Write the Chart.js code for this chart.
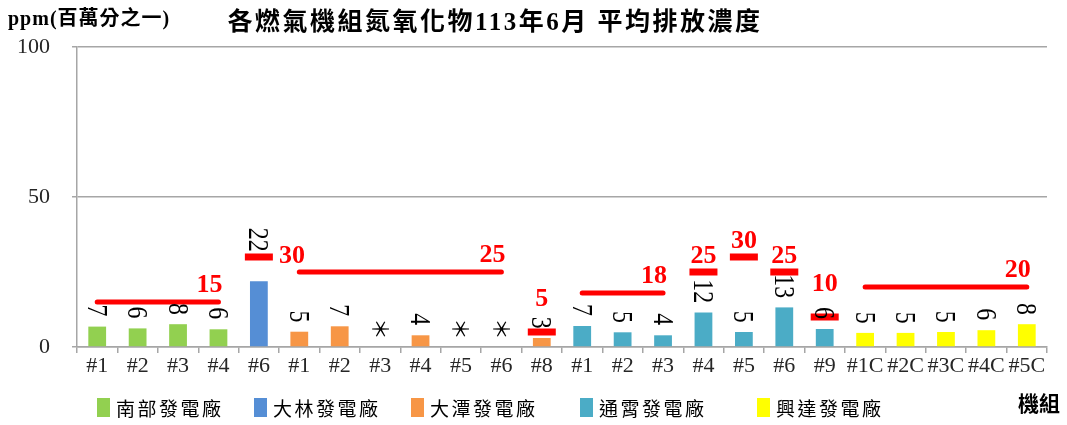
<!DOCTYPE html>
<html><head><meta charset="utf-8">
<script src="https://cdn.jsdelivr.net/npm/chart.js@4.4.0/dist/chart.umd.min.js"></script>
<style>html,body{margin:0;padding:0;background:#fff}#wrap{width:1067px;height:425px;position:relative}</style>
</head><body><div id="wrap"><canvas id="c"></canvas></div>
<script>
// ---- data ----
const categories = ['#1','#2','#3','#4','#6','#1','#2','#3','#4','#5','#6','#8','#1','#2','#3','#4','#5','#6','#9','#1C','#2C','#3C','#4C','#5C'];
const plantNames = ['南部發電廠','大林發電廠','大潭發電廠','通霄發電廠','興達發電廠'];
const plantColors = ['#92D050','#558ED5','#F79646','#4BACC6','#FFFF00'];
const plantSizes = [4,1,7,7,5];
const values = [6.8,6.2,7.6,5.9,21.9,5.1,6.9,null,3.9,null,null,3.0,7.0,4.9,3.9,11.5,5.0,13.2,6.0,4.7,4.7,5.0,5.6,7.6];
const valueLabels = ['7','6','8','6','22','5','7','＊','4','＊','＊','3','7','5','4','12','5','13','6','5','5','5','6','8'];
const limits = [15,15,15,15,30,25,25,25,25,25,25,5,18,18,18,25,30,25,10,20,20,20,20,20];
const yTicks = [0,50,100];
const titleText = '各燃氣機組氮氧化物113年6月 平均排放濃度';
const yUnitText = 'ppm(百萬分之一)';
const xTitleText = '機組';

// ---- derived ----
const plantOf = [];
plantSizes.forEach((n,p)=>{ for(let k=0;k<n;k++) plantOf.push(p); });
const N = categories.length;
const RED = '#FF0000';
const sameRun = (i,j)=> i>=0 && j<N && limits[i]===limits[j] && plantOf[i]===plantOf[j];
const isolated = i => !sameRun(i-1,i) && !sameRun(i,i+1);

const barSets = plantNames.map((name,p)=>({
  type:'bar', label:name,
  data: values.map((v,i)=> plantOf[i]===p ? v : null),
  backgroundColor: plantColors[p], borderWidth:0,
  grouped:false, barPercentage:0.44, categoryPercentage:1, order:2
}));
const limitSet = {
  type:'line', label:'limit', data: limits,
  borderColor: RED, borderWidth:5, borderCapStyle:'round', fill:false, tension:0,
  segment:{ borderColor: ctx => sameRun(ctx.p0DataIndex, ctx.p1DataIndex) ? RED : 'rgba(0,0,0,0)' },
  pointStyle:'line',
  pointRadius: ctx => isolated(ctx.dataIndex) ? 14 : 0,
  pointHoverRadius: ctx => isolated(ctx.dataIndex) ? 14 : 0,
  pointBorderWidth:7, pointHoverBorderWidth:7,
  pointBorderColor: RED, pointBackgroundColor: RED, order:0
};

function drawText(ctx, text, x, y, font, color, align, spacing){
  ctx.save(); ctx.font = font; ctx.fillStyle = color;
  if (spacing) ctx.letterSpacing = spacing;
  const m = ctx.measureText(text);
  ctx.textAlign = align; ctx.textBaseline = 'alphabetic';
  ctx.fillText(text, x, y + (m.actualBoundingBoxAscent - m.actualBoundingBoxDescent)/2);
  ctx.restore();
}
function drawRotated(ctx, text, cx, yPos, mode, font, sx){
  ctx.save(); ctx.font = font; ctx.fillStyle = '#000';
  const m = ctx.measureText(text);
  const L = m.actualBoundingBoxLeft, R = m.actualBoundingBoxRight, A = m.actualBoundingBoxAscent, D = m.actualBoundingBoxDescent;
  ctx.translate(cx, yPos); ctx.rotate(Math.PI/2); ctx.scale(sx,1);
  ctx.textAlign = 'left'; ctx.textBaseline = 'alphabetic';
  const bx = mode === 'bottom' ? -R : -(R - L)/2;
  ctx.fillText(text, bx, (A - D)/2);
  ctx.restore();
}

const LABEL_FONT = '30px "Liberation Serif"';
const STAR_FONT = '22px "Noto Sans CJK TC"';
const LIMIT_FONT = 'bold 26px "Liberation Serif"';
const labelAboveLimit = new Set([4]);
const limitLabelRight = new Set([4]);
const limitLabelHigh = new Set([11,18]);

const textPlugin = {
  id:'texts',
  afterDatasetsDraw(chart){
    const ctx = chart.ctx, xs = chart.scales.x, ys = chart.scales.y;
    const y0 = ys.getPixelForValue(0);
    for (let i=0;i<N;i++){
      const cx = xs.getPixelForValue(i);
      if (values[i] === null){
        drawRotated(ctx, valueLabels[i], cx, y0 - 18, 'center', STAR_FONT, 1);
      } else {
        let bottom = ys.getPixelForValue(values[i]) - 10;
        if (labelAboveLimit.has(i)) bottom = ys.getPixelForValue(limits[i]) - 6;
        drawRotated(ctx, valueLabels[i], cx, bottom, 'bottom', LABEL_FONT, 0.8);
      }
    }
    for (let i=0;i<N;i++){
      const yl = ys.getPixelForValue(limits[i]);
      if (isolated(i)){
        const cx = xs.getPixelForValue(i);
        if (limitLabelRight.has(i)) drawText(ctx, String(limits[i]), cx + 20, yl - 3, LIMIT_FONT, RED, 'left');
        else drawText(ctx, String(limits[i]), cx, yl - (limitLabelHigh.has(i) ? 35 : 18), LIMIT_FONT, RED, 'center');
      } else if (!sameRun(i, i+1)){
        drawText(ctx, String(limits[i]), xs.getPixelForValue(i) + 4, yl - 19, LIMIT_FONT, RED, 'right');
      }
    }
  },
  afterDraw(chart){
    const ctx = chart.ctx;
    drawText(ctx, titleText, 495, 21, 'bold 25px "Liberation Serif", "Noto Sans CJK TC"', '#000', 'center', '2.5px');
    drawText(ctx, yUnitText, 8, 18, 'bold 20px "Liberation Serif", "Noto Sans CJK TC"', '#000', 'left', '1px');
    drawText(ctx, xTitleText, 1018, 404, 'bold 21px "Noto Sans CJK TC"', '#000', 'left');
    const boxX = [97,254,411,580,757];
    plantNames.forEach((name,p)=>{
      ctx.save(); ctx.fillStyle = plantColors[p]; ctx.fillRect(boxX[p], 398, 13, 19); ctx.restore();
      drawText(ctx, name, boxX[p] + 19, 408, '19px "Liberation Serif", "Noto Sans CJK TC"', '#000', 'left', '2.5px');
    });
  }
};

new Chart(document.getElementById('c'), {
  data:{ labels: categories, datasets: [limitSet, ...barSets] },
  options:{
    responsive:true, maintainAspectRatio:false, animation:false,
    layout:{ padding:{ left:0, right:20, top:47, bottom:0 } },
    plugins:{ legend:{display:false}, tooltip:{enabled:false}, title:{display:false} },
    scales:{
      x:{ type:'category', offset:true,
        grid:{ display:true, drawOnChartArea:false, drawTicks:true, tickLength:6, color:'#a6a6a6', lineWidth:1.5, offset:true },
        border:{ display:true, color:'#a6a6a6', width:1.5 },
        ticks:{ font:{ family:'Liberation Serif', size:22 }, color:'#262626', padding:0, autoSkip:false, maxRotation:0 },
        afterFit: s => { s.height = 78; } },
      y:{ min:0, max:100,
        afterBuildTicks: s => { s.ticks = yTicks.map(v => ({ value:v })); },
        grid:{ color:'#a6a6a6', lineWidth:1.5, tickLength:5, drawTicks:true },
        border:{ display:true, color:'#a6a6a6', width:1.5 },
        ticks:{ font:{ family:'Liberation Serif', size:22 }, color:'#262626', padding:22 },
        afterFit: s => { s.width = 77; } }
    }
  },
  plugins:[textPlugin]
});
</script></body></html>
